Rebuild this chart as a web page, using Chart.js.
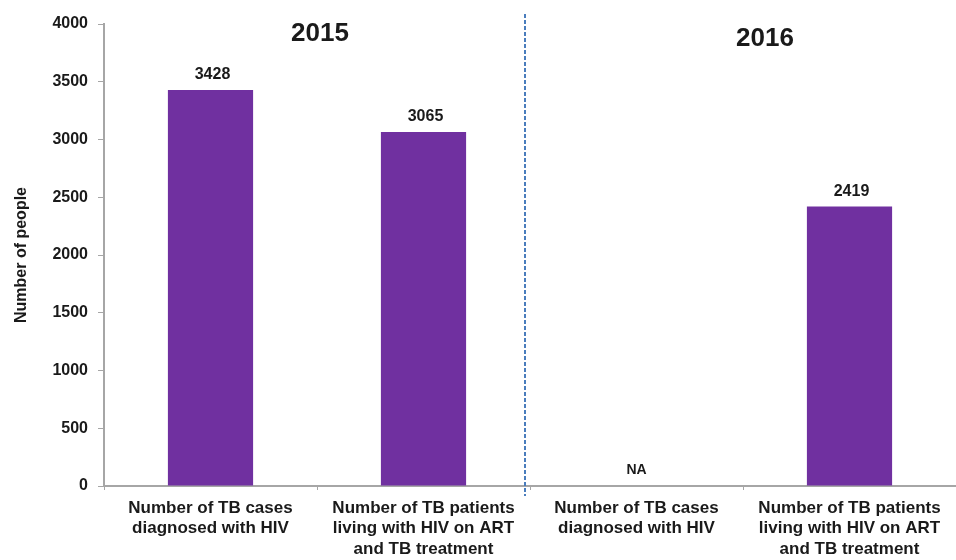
<!DOCTYPE html>
<html>
<head>
<meta charset="utf-8">
<script src="https://cdn.jsdelivr.net/npm/chart.js@4.4.1/dist/chart.umd.min.js"></script>
<style>
  html, body { margin: 0; padding: 0; background: #ffffff; }
  #wrap { width: 956px; height: 560px; position: relative; }
</style>
</head>
<body>
<div id="wrap"><canvas id="c" width="956" height="560"></canvas></div>
<script>
const categories = [
  ["Number of TB cases", "diagnosed with HIV"],
  ["Number of TB patients", "living with HIV on ART", "and TB treatment"],
  ["Number of TB cases", "diagnosed with HIV"],
  ["Number of TB patients", "living with HIV on ART", "and TB treatment"]
];
const peopleValues = [3428, 3065, null, 2419];
const valueLabels = ["3428", "3065", "NA", "2419"];
const yearLabels = ["2015", "2016"];
const yTicks = [0, 500, 1000, 1500, 2000, 2500, 3000, 3500, 4000];

const FONT = "'Liberation Sans', Arial, sans-serif";
const TEXT = "#1a1a1a";
const PURPLE = "#7030a0";

const overlay = {
  id: "overlay",
  afterDatasetsDraw(chart) {
    const ctx = chart.ctx;
    const x = chart.scales.x, y = chart.scales.y;
    const meta = chart.getDatasetMeta(0);
    ctx.save();
    ctx.fillStyle = TEXT;
    ctx.textAlign = "center";
    peopleValues.forEach((v, i) => {
      const cx = x.getPixelForValue(i);
      if (v === null) {
        ctx.font = "bold 14px " + FONT;
        ctx.textBaseline = "middle";
        ctx.fillText(valueLabels[i], cx, y.getPixelForValue(0) - 16);
      } else {
        const el = meta.data[i];
        ctx.font = "bold 16px " + FONT;
        ctx.textBaseline = "bottom";
        ctx.fillText(valueLabels[i], el.x + 2, el.y - 7);
      }
    });
    ctx.font = "bold 26px " + FONT;
    ctx.textBaseline = "middle";
    const b1 = (x.getPixelForValue(0) + x.getPixelForValue(1)) / 2;
    const b2 = (x.getPixelForValue(2) + x.getPixelForValue(3)) / 2;
    ctx.fillText(yearLabels[0], b1 + 3, 34);
    ctx.fillText(yearLabels[1], b2 + 22, 39);
    const dx = (x.getPixelForValue(1) + x.getPixelForValue(2)) / 2 - 5;
    ctx.strokeStyle = "#4a7dbd";
    ctx.lineWidth = 2;
    ctx.setLineDash([4, 2]);
    ctx.beginPath();
    ctx.moveTo(dx, 14);
    ctx.lineTo(dx, y.getPixelForValue(0) + 10);
    ctx.stroke();
    ctx.restore();
  }
};

new Chart(document.getElementById("c"), {
  type: "bar",
  data: {
    labels: categories,
    datasets: [{
      data: peopleValues,
      backgroundColor: PURPLE,
      borderWidth: 0,
      barPercentage: 0.4,
      categoryPercentage: 1.0
    }]
  },
  options: {
    responsive: false,
    animation: false,
    devicePixelRatio: 1,
    layout: { padding: { top: 24, right: 0, bottom: 0, left: 0 } },
    plugins: {
      legend: { display: false },
      tooltip: { enabled: false },
      title: { display: false }
    },
    scales: {
      x: {
        offset: true,
        grid: { display: true, drawOnChartArea: false, drawTicks: true, tickLength: 4, color: "#a6a6a6" },
        border: { display: true, color: "#a6a6a6", width: 2 },
        ticks: {
          color: TEXT,
          font: { family: FONT, size: 17, weight: "bold", lineHeight: 1.2 },
          padding: 8,
          maxRotation: 0,
          minRotation: 0,
          autoSkip: false
        },
        afterFit(scale) { scale.height = 74; }
      },
      y: {
        min: 0,
        max: 4000,
        afterBuildTicks(scale) { scale.ticks = yTicks.map(v => ({ value: v })); },
        grid: { display: true, drawOnChartArea: false, drawTicks: true, tickLength: 6, color: "#a6a6a6" },
        border: { display: true, color: "#a6a6a6", width: 2 },
        ticks: {
          color: TEXT,
          font: { family: FONT, size: 16, weight: "bold" },
          padding: 10,
          callback: (v) => String(v)
        },
        title: {
          display: true,
          text: "Number of people",
          color: TEXT,
          font: { family: FONT, size: 16, weight: "bold" },
          padding: { top: 12, bottom: 0 }
        },
        afterFit(scale) { scale.width = 104; }
      }
    }
  },
  plugins: [overlay]
});
</script>
</body>
</html>
